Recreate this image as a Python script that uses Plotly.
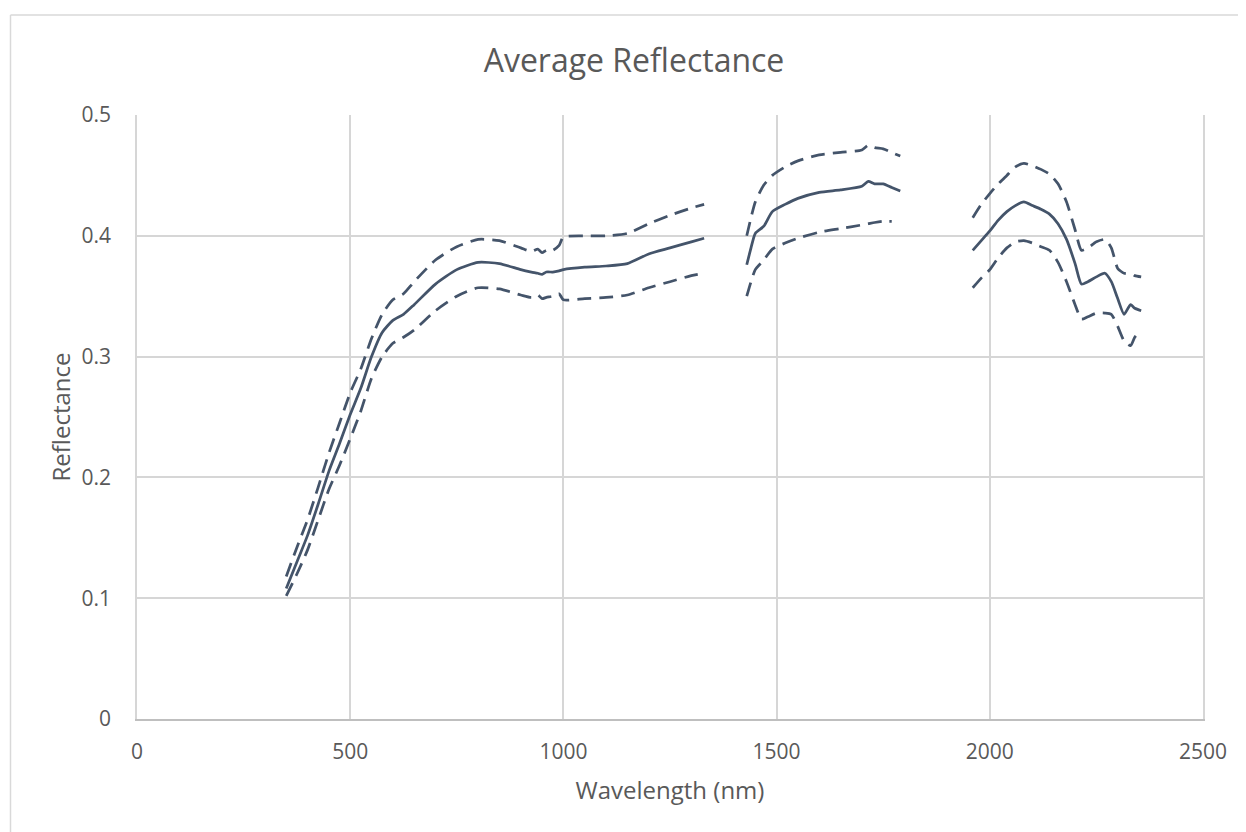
import plotly.graph_objects as go

# ---- data ----
wl_seg1 = [350, 375, 400, 425, 450, 475, 500, 525, 550, 575, 600, 625, 650, 700, 750, 800, 850, 900,
           925, 940, 950, 960, 975, 990, 1000, 1050, 1100, 1150, 1200, 1250, 1300, 1330]
wl_seg2 = [1430, 1440, 1450, 1470, 1490, 1520, 1550, 1600, 1650, 1700, 1715, 1730, 1750, 1770, 1790]
wl_seg3 = [1960, 1980, 2000, 2020, 2040, 2060, 2080, 2100, 2120, 2140, 2160, 2180, 2200, 2215, 2230,
           2250, 2270, 2285, 2300, 2315, 2330, 2340, 2355]

mean_seg1 = [0.108, 0.130, 0.152, 0.178, 0.205, 0.228, 0.252, 0.274, 0.300, 0.320, 0.330, 0.335, 0.343,
             0.360, 0.372, 0.378, 0.377, 0.372, 0.370, 0.369, 0.368, 0.370, 0.370, 0.371, 0.372, 0.374,
             0.375, 0.377, 0.385, 0.390, 0.395, 0.398]
mean_seg2 = [0.376, 0.390, 0.402, 0.408, 0.420, 0.426, 0.431, 0.436, 0.438, 0.441, 0.445, 0.443, 0.443,
             0.440, 0.437]
mean_seg3 = [0.388, 0.396, 0.404, 0.413, 0.420, 0.425, 0.428, 0.425, 0.422, 0.418, 0.410, 0.397, 0.377,
             0.360, 0.362, 0.366, 0.369, 0.362, 0.348, 0.335, 0.343, 0.340, 0.338]

upper_seg1 = [0.118, 0.142, 0.165, 0.192, 0.220, 0.245, 0.270, 0.290, 0.315, 0.335, 0.347, 0.352, 0.362,
              0.380, 0.391, 0.397, 0.396, 0.390, 0.387, 0.389, 0.386, 0.388, 0.388, 0.392, 0.399, 0.400,
              0.400, 0.402, 0.410, 0.417, 0.423, 0.426]
upper_seg2 = [0.400, 0.415, 0.428, 0.442, 0.450, 0.457, 0.462, 0.467, 0.469, 0.471, 0.475, 0.473, 0.472,
              0.469, 0.466]
upper_seg3 = [0.415, 0.426, 0.435, 0.443, 0.450, 0.457, 0.460, 0.458, 0.455, 0.451, 0.443, 0.428, 0.405,
              0.388, 0.390, 0.395, 0.397, 0.390, 0.373, 0.369, 0.369, 0.367, 0.366]

lower_seg1 = [0.102, 0.120, 0.140, 0.165, 0.190, 0.210, 0.232, 0.255, 0.282, 0.300, 0.311, 0.316, 0.322,
              0.338, 0.350, 0.357, 0.356, 0.351, 0.349, 0.351, 0.348, 0.349, 0.350, 0.352, 0.347, 0.348,
              0.349, 0.351, 0.357, 0.362, 0.367, 0.369]
lower_seg2 = [0.350, 0.362, 0.372, 0.380, 0.389, 0.394, 0.398, 0.403, 0.406, 0.409, 0.410, 0.411, 0.412,
              0.412, None]
lower_seg3 = [0.357, 0.365, 0.372, 0.382, 0.390, 0.395, 0.396, 0.394, 0.391, 0.388, 0.378, 0.362, 0.343,
              0.331, 0.333, 0.336, 0.336, 0.335, 0.325, 0.313, 0.309, 0.316, 0.322]

x_ticks = [0, 500, 1000, 1500, 2000, 2500]
y_ticks = [0, 0.1, 0.2, 0.3, 0.4, 0.5]
y_tick_labels = ["0", "0.1", "0.2", "0.3", "0.4", "0.5"]

# ---- build ----
def join(*segs):
    out = []
    for i, s in enumerate(segs):
        if i:
            out.append(None)
        out.extend(s)
    return out

wl_all = join(wl_seg1, wl_seg2, wl_seg3)
LINE = "#44546a"
FONT = "Open Sans"
DASH = "14px,8px"
LW = 2.75

fig = go.Figure()
fig.add_trace(go.Scatter(x=wl_all, y=join(upper_seg1, upper_seg2, upper_seg3), mode="lines",
                         line=dict(color=LINE, width=LW, dash=DASH, shape="spline", smoothing=0.6),
                         connectgaps=False, showlegend=False))
fig.add_trace(go.Scatter(x=wl_all, y=join(lower_seg1, lower_seg2, lower_seg3), mode="lines",
                         line=dict(color=LINE, width=LW, dash=DASH, shape="spline", smoothing=0.6),
                         connectgaps=False, showlegend=False))
fig.add_trace(go.Scatter(x=wl_all, y=join(mean_seg1, mean_seg2, mean_seg3), mode="lines",
                         line=dict(color=LINE, width=LW, shape="spline", smoothing=0.6),
                         connectgaps=False, showlegend=False))

# page has an 8px body margin; figure coordinates are page coordinates minus 8
OFF = 8
W, H = 1246 - OFF, 832 - OFF
L, R, T, B = 137 - OFF, 1203 - OFF, 115 - OFF, 719 - OFF

def px(xp):
    return (xp - OFF - L) / (R - L)

def py(yp):
    return (B - (yp - OFF)) / (B - T)

GRID = "#d6d6d6"

fig.update_layout(
    width=W, height=H,
    margin=dict(l=L, r=W - R, t=T, b=H - B, autoexpand=False),
    paper_bgcolor="white", plot_bgcolor="white",
    font=dict(family=FONT, color="#595959"),
    title=dict(text="Average Reflectance", x=(634 - OFF) / W, xref="container", xanchor="center",
               y=1 - (61 - OFF) / H, yref="container", yanchor="middle",
               font=dict(family=FONT, size=32, color="#595959")),
    xaxis=dict(range=[0, 2500], tickvals=x_ticks, ticktext=[str(v) for v in x_ticks],
               showgrid=True, gridcolor=GRID, gridwidth=1.5, zeroline=False,
               showline=True, linecolor="#bfbfbf", linewidth=1.5, ticks="",
               ticklabelstandoff=13,
               tickfont=dict(family=FONT, size=21, color="#595959"),
               title=dict(text="Wavelength (nm)", standoff=18,
                          font=dict(family=FONT, size=24, color="#595959"))),
    yaxis=dict(range=[0, 0.5], tickvals=y_ticks, ticktext=y_tick_labels,
               showgrid=True, gridcolor=GRID, gridwidth=1.5, zeroline=False,
               showline=True, linecolor=GRID, linewidth=1.5, mirror=True, ticks="",
               ticklabelstandoff=20,
               tickfont=dict(family=FONT, size=21, color="#595959"),
               title=dict(text="Reflectance", standoff=4,
                          font=dict(family=FONT, size=24, color="#595959"))),
    shapes=[
        dict(type="line", xref="paper", yref="paper", x0=px(10.5), x1=px(10.5), y0=py(15), y1=py(900),
             line=dict(color="#d9d9d9", width=1.5)),
        dict(type="line", xref="paper", yref="paper", x0=px(10.5), x1=px(1300), y0=py(15), y1=py(15),
             line=dict(color="#d9d9d9", width=1.5)),
    ],
)

fig.write_html("out.html")
